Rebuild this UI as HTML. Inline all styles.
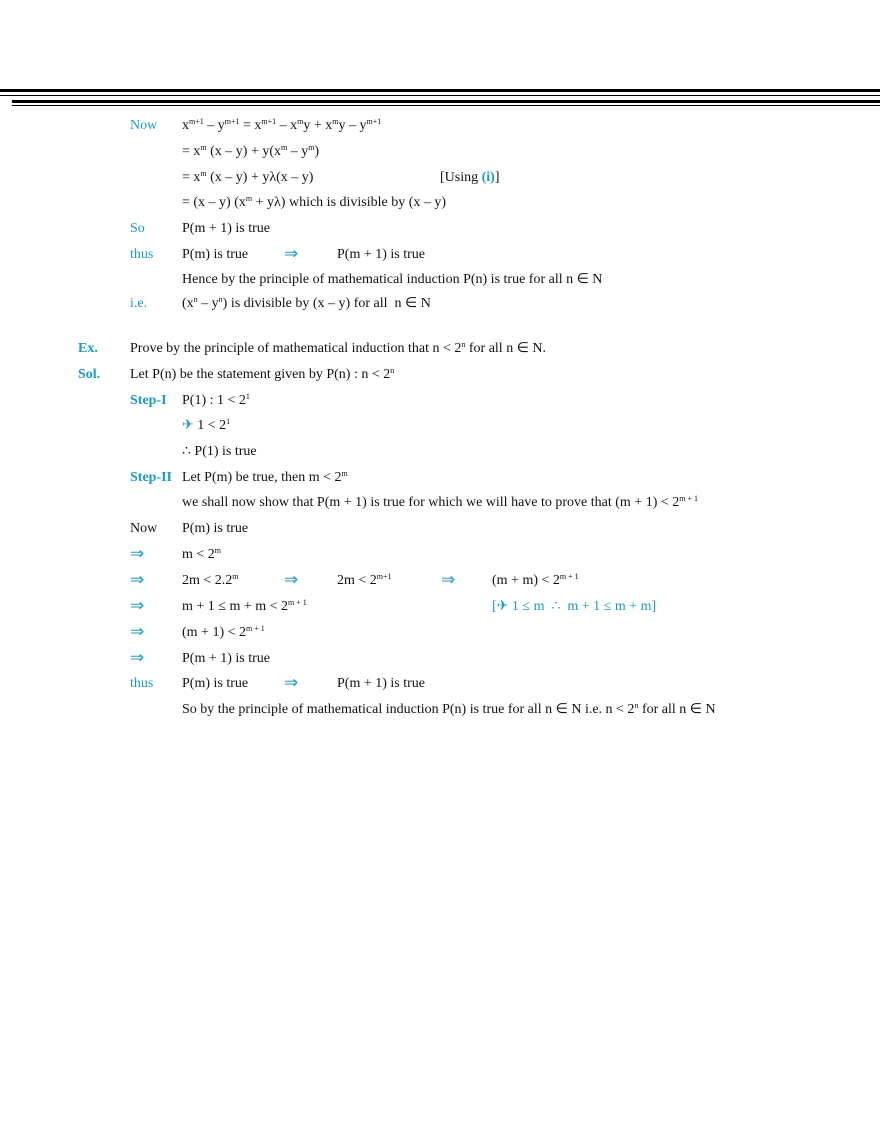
<!DOCTYPE html>
<html><head><meta charset="utf-8"><style>
body{margin:0;width:880px;height:1139px;background:#fff;position:relative;font-family:"Liberation Serif",serif;font-size:14px;color:#111;overflow:hidden}
.l{position:absolute;line-height:18px;white-space:nowrap;margin-top:2px}
.b{color:#1a9bc4}
.bb{color:#1a9bc4;font-weight:bold}
.a{font-size:17px}
sup{font-size:8px;vertical-align:5px;line-height:0}
.r{position:absolute;background:#000}
</style></head><body>
<div class="r" style="left:0;top:89px;width:880px;height:3px"></div>
<div class="r" style="left:0;top:95px;width:880px;height:1px"></div>
<div class="r" style="left:12px;top:100px;width:868px;height:3px"></div>
<div class="r" style="left:12px;top:105px;width:868px;height:1px"></div>

<div class="l b" style="left:130px;top:115px">Now</div>
<div class="l" style="left:182px;top:115px">x<sup>m+1</sup> – y<sup>m+1</sup> = x<sup>m+1</sup> – x<sup>m</sup>y + x<sup>m</sup>y – y<sup>m+1</sup></div>
<div class="l" style="left:182px;top:141px">= x<sup>m</sup> (x – y) + y(x<sup>m</sup> – y<sup>m</sup>)</div>
<div class="l" style="left:182px;top:167px">= x<sup>m</sup> (x – y) + yλ(x – y)</div>
<div class="l" style="left:440px;top:167px">[Using <span class="bb">(i)</span>]</div>
<div class="l" style="left:182px;top:192px">= (x – y) (x<sup>m</sup> + yλ) which is divisible by (x – y)</div>
<div class="l b" style="left:130px;top:218px">So</div>
<div class="l" style="left:182px;top:218px">P(m + 1) is true</div>
<div class="l b" style="left:130px;top:244px">thus</div>
<div class="l" style="left:182px;top:244px">P(m) is true</div>
<div class="l b a" style="left:284px;top:243px">⇒</div>
<div class="l" style="left:337px;top:244px">P(m + 1) is true</div>
<div class="l" style="left:182px;top:269px">Hence by the principle of mathematical induction P(n) is true for all n ∈ N</div>
<div class="l b" style="left:130px;top:293px">i.e.</div>
<div class="l" style="left:182px;top:293px">(x<sup>n</sup> – y<sup>n</sup>) is divisible by (x – y) for all&nbsp; n ∈ N</div>

<div class="l bb" style="left:78px;top:338px">Ex.</div>
<div class="l" style="left:130px;top:338px">Prove by the principle of mathematical induction that n &lt; 2<sup>n</sup> for all n ∈ N.</div>
<div class="l bb" style="left:78px;top:364px">Sol.</div>
<div class="l" style="left:130px;top:364px">Let P(n) be the statement given by P(n) : n &lt; 2<sup>n</sup></div>
<div class="l bb" style="left:130px;top:390px">Step-I</div>
<div class="l" style="left:182px;top:390px">P(1) : 1 &lt; 2<sup>1</sup></div>
<div class="l" style="left:182px;top:415px"><span class="b">✈</span> 1 &lt; 2<sup>1</sup></div>
<div class="l" style="left:182px;top:441px">∴ P(1) is true</div>
<div class="l bb" style="left:130px;top:467px">Step-II</div>
<div class="l" style="left:182px;top:467px">Let P(m) be true, then m &lt; 2<sup>m</sup></div>
<div class="l" style="left:182px;top:492px">we shall now show that P(m + 1) is true for which we will have to prove that (m + 1) &lt; 2<sup>m + 1</sup></div>
<div class="l" style="left:130px;top:518px">Now</div>
<div class="l" style="left:182px;top:518px">P(m) is true</div>
<div class="l b a" style="left:130px;top:543px">⇒</div>
<div class="l" style="left:182px;top:544px">m &lt; 2<sup>m</sup></div>
<div class="l b a" style="left:130px;top:569px">⇒</div>
<div class="l" style="left:182px;top:570px">2m &lt; 2.2<sup>m</sup></div>
<div class="l b a" style="left:284px;top:569px">⇒</div>
<div class="l" style="left:337px;top:570px">2m &lt; 2<sup>m+1</sup></div>
<div class="l b a" style="left:441px;top:569px">⇒</div>
<div class="l" style="left:492px;top:570px">(m + m) &lt; 2<sup>m + 1</sup></div>
<div class="l b a" style="left:130px;top:595px">⇒</div>
<div class="l" style="left:182px;top:596px">m + 1 ≤ m + m &lt; 2<sup>m + 1</sup></div>
<div class="l b" style="left:492px;top:596px">[✈ 1 ≤ m&nbsp; ∴&nbsp; m + 1 ≤ m + m]</div>
<div class="l b a" style="left:130px;top:621px">⇒</div>
<div class="l" style="left:182px;top:622px">(m + 1) &lt; 2<sup>m + 1</sup></div>
<div class="l b a" style="left:130px;top:647px">⇒</div>
<div class="l" style="left:182px;top:648px">P(m + 1) is true</div>
<div class="l b" style="left:130px;top:673px">thus</div>
<div class="l" style="left:182px;top:673px">P(m) is true</div>
<div class="l b a" style="left:284px;top:672px">⇒</div>
<div class="l" style="left:337px;top:673px">P(m + 1) is true</div>
<div class="l" style="left:182px;top:699px">So by the principle of mathematical induction P(n) is true for all n ∈ N i.e. n &lt; 2<sup>n</sup> for all n ∈ N</div>
</body></html>
